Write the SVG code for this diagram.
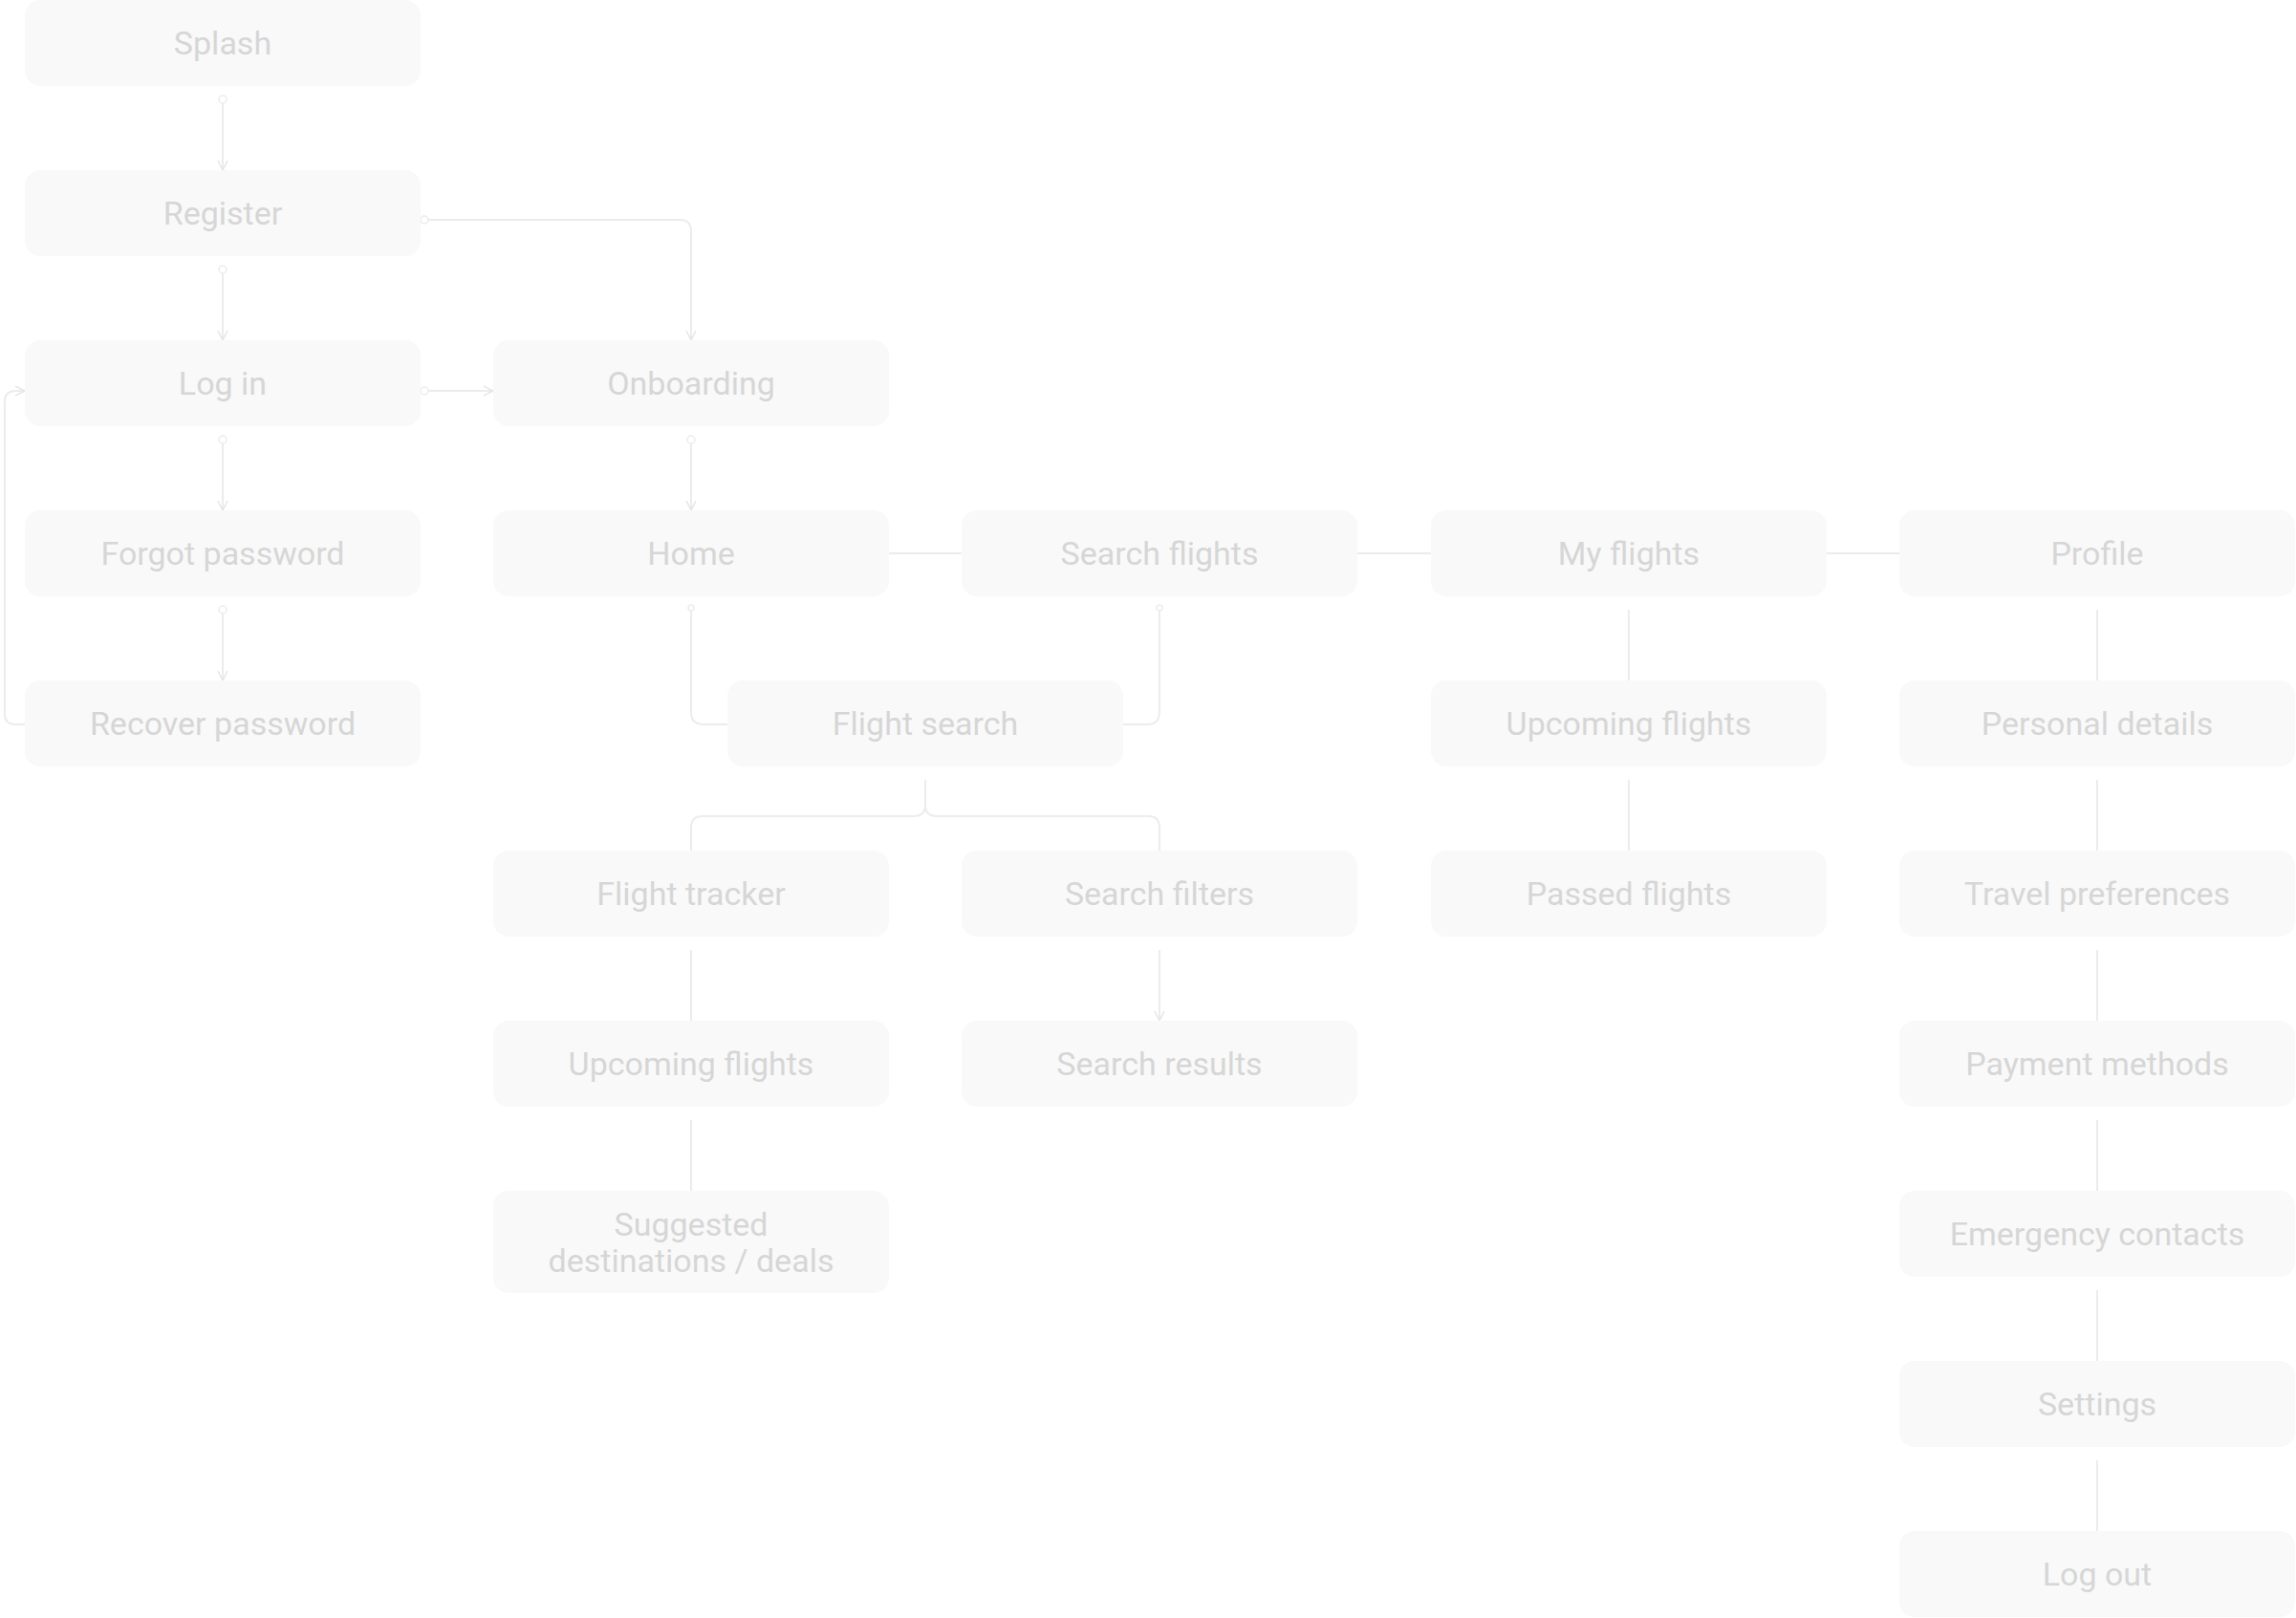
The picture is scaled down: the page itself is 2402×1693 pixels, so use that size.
<svg xmlns="http://www.w3.org/2000/svg" width="2402" height="1693" viewBox="0 0 2402 1693">
<style>
.n rect{fill:#f9f9f9}
.n text{font-family:Roboto,"Liberation Sans",sans-serif;font-size:34px;fill:#d6d6d6;text-anchor:middle;dominant-baseline:central}
#c path{fill:none;stroke:#ececec;stroke-width:2}
#c circle{fill:#fff;stroke:#ececec;stroke-width:1.5}
</style>
<defs><marker id="a" viewBox="0 0 12 12" refX="11" refY="6" markerWidth="12" markerHeight="12" markerUnits="userSpaceOnUse" orient="auto"><path d="M1 1L11 6L1 11" fill="none" stroke="#e6e6e6" stroke-width="1.5"/></marker></defs>
<rect width="2402" height="1693" fill="#fff"/>
<g id="c">
<path d="M233 107V178" marker-end="url(#a)"/><circle cx="233" cy="104" r="4"/>
<path d="M233 285V356" marker-end="url(#a)"/><circle cx="233" cy="282" r="4"/>
<path d="M233 463V534" marker-end="url(#a)"/><circle cx="233" cy="460" r="4"/>
<path d="M233 641V712" marker-end="url(#a)"/><circle cx="233" cy="638" r="4"/>
<path d="M447 230H711Q723 230 723 242V356" marker-end="url(#a)"/><circle cx="444" cy="230" r="4"/>
<path d="M447 409H516" marker-end="url(#a)"/><circle cx="444" cy="409" r="4"/>
<path d="M26 758H16Q5 758 5 747V420Q5 409 16 409H26" marker-end="url(#a)"/>
<path d="M723 463V534" marker-end="url(#a)"/><circle cx="723" cy="460" r="4"/>
<path d="M930 579H1006M1420 579H1497M1911 579H1987"/>
<path d="M723 638V745Q723 758 736 758H761"/><circle cx="723" cy="636" r="3"/>
<path d="M1213 638V745Q1213 758 1200 758H1175"/><circle cx="1213" cy="636" r="3"/>
<path d="M968 816V842Q968 854 956 854H735Q723 854 723 866V890M968 842Q968 854 980 854H1201Q1213 854 1213 866V890"/>
<path d="M723 994V1068M723 1172V1246"/>
<path d="M1213 994V1068" marker-end="url(#a)"/>
<path d="M1704 638V712M1704 816V890"/>
<path d="M2194 638V712M2194 816V890M2194 994V1068M2194 1172V1246M2194 1350V1424M2194 1528V1602"/>
</g>
<g id="splash" class="n"><rect x="26" y="0" width="414" height="90" rx="16"/><text x="233" y="45">Splash</text></g>
<g id="register" class="n"><rect x="26" y="178" width="414" height="90" rx="16"/><text x="233" y="223">Register</text></g>
<g id="login" class="n"><rect x="26" y="356" width="414" height="90" rx="16"/><text x="233" y="401">Log in</text></g>
<g id="forgot" class="n"><rect x="26" y="534" width="414" height="90" rx="16"/><text x="233" y="579">Forgot password</text></g>
<g id="recover" class="n"><rect x="26" y="712" width="414" height="90" rx="16"/><text x="233" y="757">Recover password</text></g>
<g id="onboarding" class="n"><rect x="516" y="356" width="414" height="90" rx="16"/><text x="723" y="401">Onboarding</text></g>
<g id="home" class="n"><rect x="516" y="534" width="414" height="90" rx="16"/><text x="723" y="579">Home</text></g>
<g id="searchflights" class="n"><rect x="1006" y="534" width="414" height="90" rx="16"/><text x="1213" y="579">Search flights</text></g>
<g id="myflights" class="n"><rect x="1497" y="534" width="414" height="90" rx="16"/><text x="1704" y="579">My flights</text></g>
<g id="profile" class="n"><rect x="1987" y="534" width="414" height="90" rx="16"/><text x="2194" y="579">Profile</text></g>
<g id="flightsearch" class="n"><rect x="761" y="712" width="414" height="90" rx="16"/><text x="968" y="757">Flight search</text></g>
<g id="upcoming2" class="n"><rect x="1497" y="712" width="414" height="90" rx="16"/><text x="1704" y="757">Upcoming flights</text></g>
<g id="personal" class="n"><rect x="1987" y="712" width="414" height="90" rx="16"/><text x="2194" y="757">Personal details</text></g>
<g id="tracker" class="n"><rect x="516" y="890" width="414" height="90" rx="16"/><text x="723" y="935">Flight tracker</text></g>
<g id="filters" class="n"><rect x="1006" y="890" width="414" height="90" rx="16"/><text x="1213" y="935">Search filters</text></g>
<g id="passed" class="n"><rect x="1497" y="890" width="414" height="90" rx="16"/><text x="1704" y="935">Passed flights</text></g>
<g id="travel" class="n"><rect x="1987" y="890" width="414" height="90" rx="16"/><text x="2194" y="935">Travel preferences</text></g>
<g id="upcoming1" class="n"><rect x="516" y="1068" width="414" height="90" rx="16"/><text x="723" y="1113">Upcoming flights</text></g>
<g id="results" class="n"><rect x="1006" y="1068" width="414" height="90" rx="16"/><text x="1213" y="1113">Search results</text></g>
<g id="payment" class="n"><rect x="1987" y="1068" width="414" height="90" rx="16"/><text x="2194" y="1113">Payment methods</text></g>
<g id="suggested" class="n"><rect x="516" y="1246" width="414" height="107" rx="16"/><text x="723" y="1281">Suggested</text><text x="723" y="1319">destinations / deals</text></g>
<g id="emergency" class="n"><rect x="1987" y="1246" width="414" height="90" rx="16"/><text x="2194" y="1291">Emergency contacts</text></g>
<g id="settings" class="n"><rect x="1987" y="1424" width="414" height="90" rx="16"/><text x="2194" y="1469">Settings</text></g>
<g id="logout" class="n"><rect x="1987" y="1602" width="414" height="90" rx="16"/><text x="2194" y="1647">Log out</text></g>
</svg>
